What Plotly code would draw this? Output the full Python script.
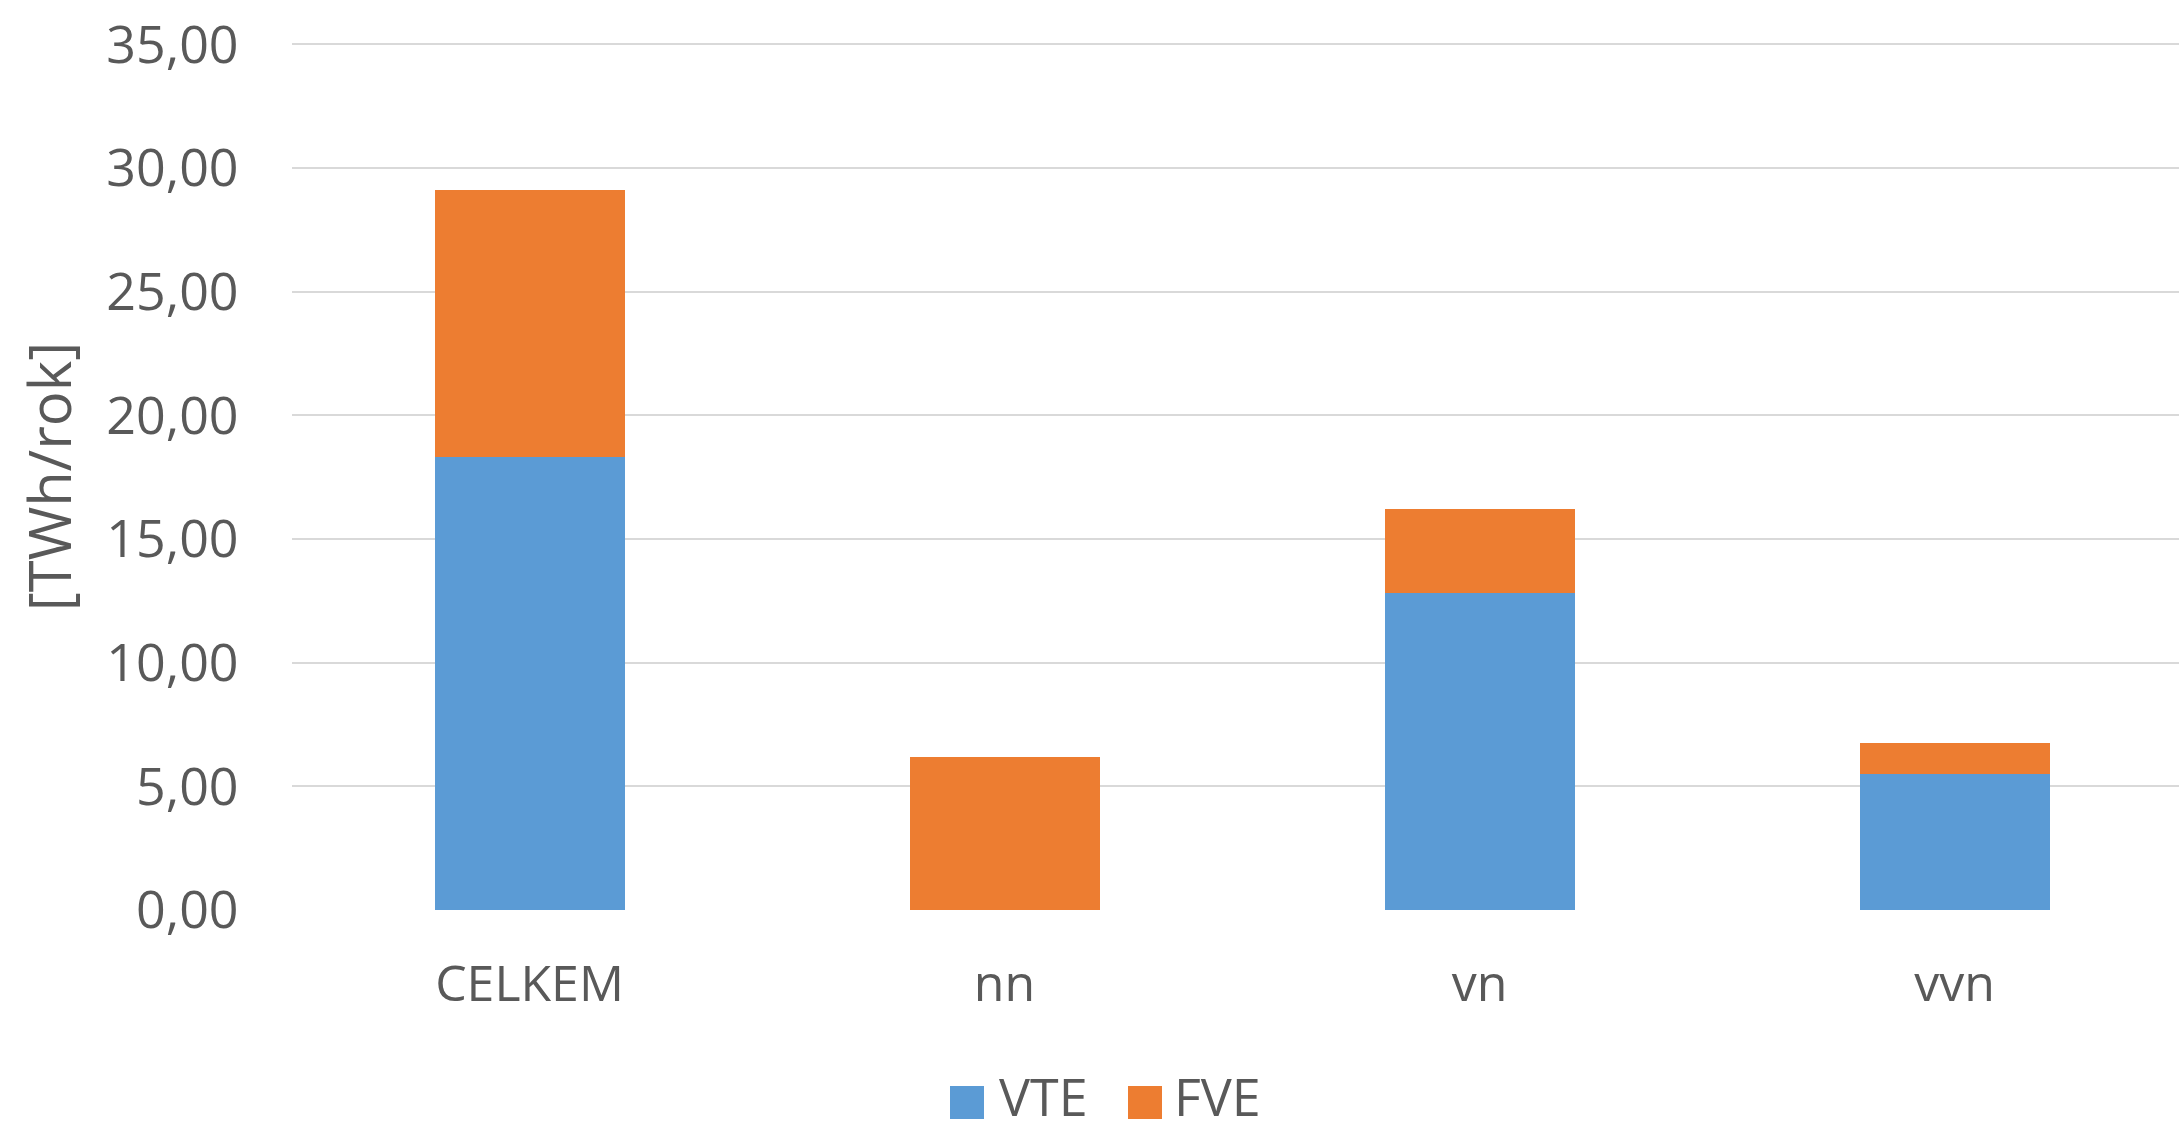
import plotly.graph_objects as go

categories = ["CELKEM", "nn", "vn", "vvn"]
vte = [18.3, 0.0, 12.8, 5.5]
fve = [10.8, 6.2, 3.4, 1.25]
series_names = ["VTE", "FVE"]
colors = ["#5B9BD5", "#ED7D31"]
y_ticks = [0, 5, 10, 15, 20, 25, 30, 35]

W, H = 2179, 1134
ML, MR, MT, MB = 292, 0, 43, 224
PW, PH = W - ML - MR, H - MT - MB
FONT = "Open Sans"
GREY = "#595959"


def px_x(px):
    return (px - ML) / PW


def px_y(py):
    return (H - MB - py) / PH


fig = go.Figure()
for name, vals, col in zip(series_names, [vte, fve], colors):
    fig.add_trace(go.Bar(x=categories, y=vals, name=name, marker=dict(color=col, line=dict(width=0)),
                         width=0.4, showlegend=False))

fig.update_layout(
    barmode="stack",
    width=W, height=H,
    margin=dict(l=ML, r=MR, t=MT, b=MB, pad=0),
    paper_bgcolor="white", plot_bgcolor="white",
    separators=", ",
    font=dict(family=FONT, color=GREY, size=50),
    xaxis=dict(range=[-0.5, -0.5 + PW / 475.0], showgrid=False, showline=False, zeroline=False,
               tickfont=dict(size=50, color=GREY), ticks="outside", ticklen=30, tickcolor="rgba(0,0,0,0)"),
    yaxis=dict(range=[0, 35.06], tickvals=y_ticks, tickformat=".2f", showgrid=True, gridcolor="#D9D9D9",
               gridwidth=2, zeroline=False, showline=False,
               tickfont=dict(size=52, color=GREY), ticks="outside", ticklen=42, tickcolor="rgba(0,0,0,0)",
               title=dict(text="[TWh/rok]", font=dict(size=58, color=GREY), standoff=15)),
)

# custom legend (large squares like the reference)
legend_items = [
    (series_names[0], colors[0], 950, 998),
    (series_names[1], colors[1], 1128, 1173),
]
for name, col, sq_x, tx_x in legend_items:
    fig.add_shape(type="rect", xref="paper", yref="paper",
                  x0=px_x(sq_x), x1=px_x(sq_x + 34), y0=px_y(1119), y1=px_y(1086),
                  fillcolor=col, line=dict(width=0), layer="above")
    fig.add_annotation(text=name, xref="paper", yref="paper", x=px_x(tx_x), y=px_y(1132),
                       xanchor="left", yanchor="bottom", showarrow=False, borderpad=0,
                       font=dict(size=52, color=GREY, family=FONT))

fig.write_html("out.html", config={"displayModeBar": False},
               post_script="document.body.style.margin='0';document.body.style.overflow='hidden';")
